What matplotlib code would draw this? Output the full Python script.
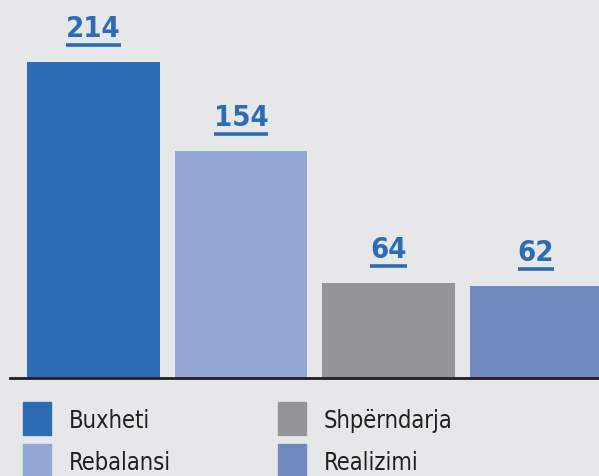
import matplotlib.pyplot as plt
from matplotlib.patches import Rectangle
from matplotlib.lines import Line2D

categories = ["Buxheti", "Rebalansi", "Shpërndarja", "Realizimi"]
values = [214, 154, 64, 62]
colors = ["#2d6bb4", "#93a7d5", "#939598", "#7289bd"]

BG = "#e6e7e9"
LABEL_COLOR = "#2e6bb5"
W, H = 599, 476
plt.rcParams['font.family'] = ['DejaVu Sans']
plt.rcParams['font.stretch'] = 'condensed'

fig = plt.figure(figsize=(W / 100, H / 100), dpi=100, facecolor=BG)
# axes from x=10px to right edge, baseline at y=378px
ax = fig.add_axes([10 / W, 1 - 378 / H, 1 - 10 / W, 378 / H])
ax.set_facecolor(BG)

x = list(range(len(values)))
ax.bar(x, values, width=0.9, color=colors)
ax.set_xlim((10 - 93.5) / 147.5, (599 - 93.5) / 147.5)
ax.set_ylim(0, 378 / (316 / 214))
for s in ["top", "right", "left"]:
    ax.spines[s].set_visible(False)
ax.spines["bottom"].set_linewidth(2)
ax.spines["bottom"].set_color("#231f20")
ax.set_xticks([])
ax.set_yticks([])

fig.canvas.draw()
renderer = fig.canvas.get_renderer()
for i, v in enumerate(values):
    t = ax.annotate(str(v), (i, v), xytext=(0, 19), textcoords="offset pixels",
                    ha="center", va="bottom", fontsize=21, fontweight="bold",
                    color=LABEL_COLOR)
    bb = t.get_window_extent(renderer)
    yline = ax.transData.transform((i, v))[1] + 17
    fig.add_artist(Line2D([bb.x0 / W, bb.x1 / W], [yline / H, yline / H],
                          transform=fig.transFigure, color=LABEL_COLOR, lw=2.6,
                          solid_capstyle="butt"))

# legend, two columns
col_x = [23, 278]
row_top = [402, 444]
for k, (name, c) in enumerate(zip(categories, colors)):
    cx = col_x[k // 2]
    ry = row_top[k % 2]
    fig.add_artist(Rectangle((cx / W, 1 - (ry + 33) / H), 28 / W, 33 / H,
                             transform=fig.transFigure, color=c))
    fig.text((cx + 46) / W, 1 - (ry + 19) / H, name, fontsize=17,
             color="#231f20", va="center", ha="left")

fig.savefig("out.png", dpi=100, facecolor=BG)
